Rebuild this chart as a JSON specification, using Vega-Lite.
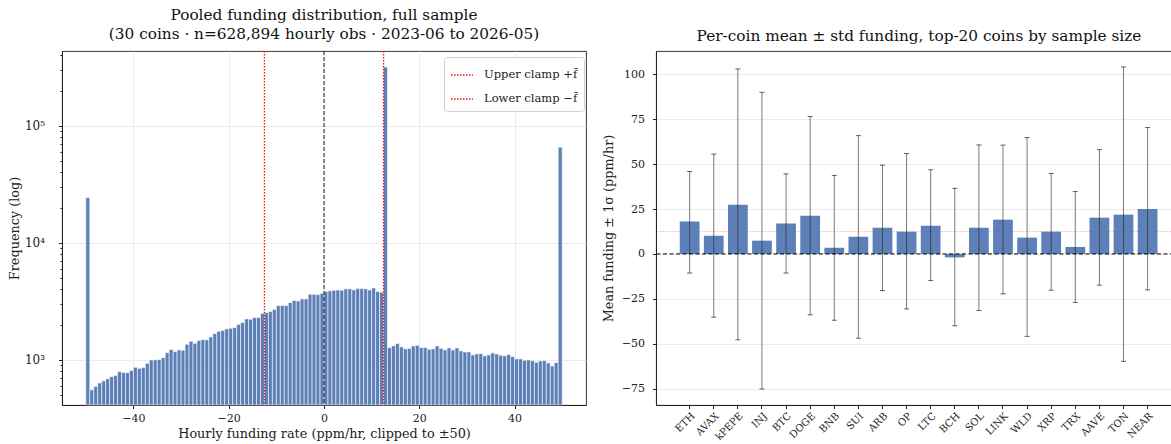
{
  "$schema": "https://vega.github.io/schema/vega-lite/v6.json",
  "padding": {"left": 7, "top": 8, "right": 0, "bottom": 0},
  "background": "white",
  "spacing": 14,
  "config": {
    "font": "DejaVu Serif",
    "view": {"stroke": "#222", "strokeWidth": 0.9},
    "title": {"font": "DejaVu Serif", "fontSize": 15.3, "fontWeight": "normal", "color": "#111", "lineHeight": 18.5, "offset": 7},
    "axis": {"labelFont": "DejaVu Serif", "titleFont": "DejaVu Serif", "labelFontSize": 10, "titleFontSize": 12.8, "titleFontWeight": "normal", "labelColor": "#222", "titleColor": "#222", "domainColor": "#222", "tickColor": "#222", "gridColor": "#e6e6e6", "gridWidth": 0.8, "tickSize": 3.5, "labelPadding": 3}
  },
  "hconcat": [
    {
      "width": 524,
      "height": 354,
      "title": {"text": ["Pooled funding distribution, full sample", "(30 coins · n=628,894 hourly obs · 2023-06 to 2026-05)"]},
      "layer": [
        {
          "data": {"values": [
            {"lo": -50.000, "hi": -49.167, "n": 24400},
            {"lo": -49.167, "hi": -48.333, "n": 555},
            {"lo": -48.333, "hi": -47.500, "n": 594},
            {"lo": -47.500, "hi": -46.667, "n": 636},
            {"lo": -46.667, "hi": -45.833, "n": 662},
            {"lo": -45.833, "hi": -45.000, "n": 689},
            {"lo": -45.000, "hi": -44.167, "n": 720},
            {"lo": -44.167, "hi": -43.333, "n": 735},
            {"lo": -43.333, "hi": -42.500, "n": 794},
            {"lo": -42.500, "hi": -41.667, "n": 778},
            {"lo": -41.667, "hi": -40.833, "n": 778},
            {"lo": -40.833, "hi": -40.000, "n": 811},
            {"lo": -40.000, "hi": -39.167, "n": 865},
            {"lo": -39.167, "hi": -38.333, "n": 847},
            {"lo": -38.333, "hi": -37.500, "n": 859},
            {"lo": -37.500, "hi": -36.667, "n": 935},
            {"lo": -36.667, "hi": -35.833, "n": 1000},
            {"lo": -35.833, "hi": -35.000, "n": 1000},
            {"lo": -35.000, "hi": -34.167, "n": 1006},
            {"lo": -34.167, "hi": -33.333, "n": 1046},
            {"lo": -33.333, "hi": -32.500, "n": 1154},
            {"lo": -32.500, "hi": -31.667, "n": 1225},
            {"lo": -31.667, "hi": -30.833, "n": 1178},
            {"lo": -30.833, "hi": -30.000, "n": 1217},
            {"lo": -30.000, "hi": -29.167, "n": 1210},
            {"lo": -29.167, "hi": -28.333, "n": 1359},
            {"lo": -28.333, "hi": -27.500, "n": 1442},
            {"lo": -27.500, "hi": -26.667, "n": 1387},
            {"lo": -26.667, "hi": -25.833, "n": 1462},
            {"lo": -25.833, "hi": -25.000, "n": 1490},
            {"lo": -25.000, "hi": -24.167, "n": 1482},
            {"lo": -24.167, "hi": -23.333, "n": 1573},
            {"lo": -23.333, "hi": -22.500, "n": 1678},
            {"lo": -22.500, "hi": -21.667, "n": 1756},
            {"lo": -21.667, "hi": -20.833, "n": 1780},
            {"lo": -20.833, "hi": -20.000, "n": 1841},
            {"lo": -20.000, "hi": -19.167, "n": 1862},
            {"lo": -19.167, "hi": -18.333, "n": 1890},
            {"lo": -18.333, "hi": -17.500, "n": 2013},
            {"lo": -17.500, "hi": -16.667, "n": 2084},
            {"lo": -16.667, "hi": -15.833, "n": 2241},
            {"lo": -15.833, "hi": -15.000, "n": 2225},
            {"lo": -15.000, "hi": -14.167, "n": 2301},
            {"lo": -14.167, "hi": -13.333, "n": 2301},
            {"lo": -13.333, "hi": -12.500, "n": 2500},
            {"lo": -12.500, "hi": -11.667, "n": 2530},
            {"lo": -11.667, "hi": -10.833, "n": 2588},
            {"lo": -10.833, "hi": -10.000, "n": 2705},
            {"lo": -10.000, "hi": -9.167, "n": 2909},
            {"lo": -9.167, "hi": -8.333, "n": 2909},
            {"lo": -8.333, "hi": -7.500, "n": 2909},
            {"lo": -7.500, "hi": -6.667, "n": 3090},
            {"lo": -6.667, "hi": -5.833, "n": 3215},
            {"lo": -5.833, "hi": -5.000, "n": 3190},
            {"lo": -5.000, "hi": -4.167, "n": 3320},
            {"lo": -4.167, "hi": -3.333, "n": 3320},
            {"lo": -3.333, "hi": -2.500, "n": 3636},
            {"lo": -2.500, "hi": -1.667, "n": 3636},
            {"lo": -1.667, "hi": -0.833, "n": 3610},
            {"lo": -0.833, "hi": 0.000, "n": 3700},
            {"lo": 0.000, "hi": 0.833, "n": 3837},
            {"lo": 0.833, "hi": 1.667, "n": 3890},
            {"lo": 1.667, "hi": 2.500, "n": 3935},
            {"lo": 2.500, "hi": 3.333, "n": 3960},
            {"lo": 3.333, "hi": 4.167, "n": 3935},
            {"lo": 4.167, "hi": 5.000, "n": 4046},
            {"lo": 5.000, "hi": 5.833, "n": 4046},
            {"lo": 5.833, "hi": 6.667, "n": 3960},
            {"lo": 6.667, "hi": 7.500, "n": 4070},
            {"lo": 7.500, "hi": 8.333, "n": 4070},
            {"lo": 8.333, "hi": 9.167, "n": 4046},
            {"lo": 9.167, "hi": 10.000, "n": 3960},
            {"lo": 10.000, "hi": 10.833, "n": 4120},
            {"lo": 10.833, "hi": 11.667, "n": 3837},
            {"lo": 11.667, "hi": 12.500, "n": 3790},
            {"lo": 12.500, "hi": 13.333, "n": 317000},
            {"lo": 13.333, "hi": 14.167, "n": 1274},
            {"lo": 14.167, "hi": 15.000, "n": 1317},
            {"lo": 15.000, "hi": 15.833, "n": 1379},
            {"lo": 15.833, "hi": 16.667, "n": 1291},
            {"lo": 16.667, "hi": 17.500, "n": 1242},
            {"lo": 17.500, "hi": 18.333, "n": 1256},
            {"lo": 18.333, "hi": 19.167, "n": 1317},
            {"lo": 19.167, "hi": 20.000, "n": 1333},
            {"lo": 20.000, "hi": 20.833, "n": 1274},
            {"lo": 20.833, "hi": 21.667, "n": 1274},
            {"lo": 21.667, "hi": 22.500, "n": 1232},
            {"lo": 22.500, "hi": 23.333, "n": 1242},
            {"lo": 23.333, "hi": 24.167, "n": 1317},
            {"lo": 24.167, "hi": 25.000, "n": 1256},
            {"lo": 25.000, "hi": 25.833, "n": 1217},
            {"lo": 25.833, "hi": 26.667, "n": 1266},
            {"lo": 26.667, "hi": 27.500, "n": 1217},
            {"lo": 27.500, "hi": 28.333, "n": 1266},
            {"lo": 28.333, "hi": 29.167, "n": 1194},
            {"lo": 29.167, "hi": 30.000, "n": 1170},
            {"lo": 30.000, "hi": 30.833, "n": 1170},
            {"lo": 30.833, "hi": 31.667, "n": 1104},
            {"lo": 31.667, "hi": 32.500, "n": 1125},
            {"lo": 32.500, "hi": 33.333, "n": 1130},
            {"lo": 33.333, "hi": 34.167, "n": 1082},
            {"lo": 34.167, "hi": 35.000, "n": 1104},
            {"lo": 35.000, "hi": 35.833, "n": 1148},
            {"lo": 35.833, "hi": 36.667, "n": 1125},
            {"lo": 36.667, "hi": 37.500, "n": 1096},
            {"lo": 37.500, "hi": 38.333, "n": 1082},
            {"lo": 38.333, "hi": 39.167, "n": 1112},
            {"lo": 39.167, "hi": 40.000, "n": 1067},
            {"lo": 40.000, "hi": 40.833, "n": 1020},
            {"lo": 40.833, "hi": 41.667, "n": 1020},
            {"lo": 41.667, "hi": 42.500, "n": 992},
            {"lo": 42.500, "hi": 43.333, "n": 1000},
            {"lo": 43.333, "hi": 44.167, "n": 986},
            {"lo": 44.167, "hi": 45.000, "n": 954},
            {"lo": 45.000, "hi": 45.833, "n": 980},
            {"lo": 45.833, "hi": 46.667, "n": 986},
            {"lo": 46.667, "hi": 47.500, "n": 942},
            {"lo": 47.500, "hi": 48.333, "n": 888},
            {"lo": 48.333, "hi": 49.167, "n": 948},
            {"lo": 49.167, "hi": 50.000, "n": 65600}
          ]},
          "mark": {"type": "bar", "color": "#4C72B0", "opacity": 0.9, "stroke": "white", "strokeWidth": 0.6},
          "encoding": {
            "x": {"field": "lo", "type": "quantitative", "title": "Hourly funding rate (ppm/hr, clipped to ±50)",
                  "scale": {"domain": [-55, 55], "nice": false, "zero": false},
                  "axis": {"values": [-40, -20, 0, 20, 40], "grid": true, "labelFontSize": 11, "labelPadding": 4, "titlePadding": 4}},
            "x2": {"field": "hi"},
            "y": {"field": "n", "type": "quantitative", "title": "Frequency (log)",
                  "scale": {"type": "log", "domain": [412, 435000], "nice": false},
                  "axis": {
                    "values": [500, 600, 700, 800, 900, 1000, 2000, 3000, 4000, 5000, 6000, 7000, 8000, 9000, 10000, 20000, 30000, 40000, 50000, 60000, 70000, 80000, 90000, 100000, 200000, 300000, 400000],
                    "labelExpr": "datum.value == 1000 ? '10³' : datum.value == 10000 ? '10⁴' : datum.value == 100000 ? '10⁵' : ''",
                    "labelOverlap": false,
                    "labelFontSize": 12,
                    "labelPadding": 14,
                    "titlePadding": 3,
                    "tickSize": {"condition": {"test": "datum.value == 1000 || datum.value == 10000 || datum.value == 100000", "value": 3.5}, "value": 2},
                    "gridOpacity": {"condition": {"test": "datum.value == 1000 || datum.value == 10000 || datum.value == 100000", "value": 1}, "value": 0}
                  }},
            "y2": {"datum": 412}
          }
        },
        {
          "data": {"values": [{}]},
          "mark": {"type": "rule", "color": "black", "strokeDash": [4, 2], "strokeWidth": 0.9},
          "encoding": {"x": {"datum": 0}}
        },
        {
          "data": {"values": [{"x": 12.5, "label": "Upper clamp +f̄"}, {"x": -12.5, "label": "Lower clamp −f̄"}]},
          "mark": {"type": "rule", "strokeDash": [1.5, 1.5], "strokeWidth": 1.3},
          "encoding": {
            "x": {"field": "x", "type": "quantitative"},
            "color": {"field": "label", "type": "nominal",
                      "scale": {"domain": ["Upper clamp +f̄", "Lower clamp −f̄"], "range": ["#ee1111", "#ee1111"]},
                      "legend": {"title": null, "orient": "none", "legendX": 382, "legendY": 6, "symbolType": "stroke", "symbolSize": 480, "symbolStrokeWidth": 1.5, "symbolDash": [1.5, 1.5], "labelFont": "DejaVu Serif", "labelFontSize": 11.5, "labelColor": "#222", "fillColor": "rgba(255,255,255,0.85)", "strokeColor": "#d0d0d0", "cornerRadius": 3, "padding": 6, "rowPadding": 6, "labelOffset": 10}}
          }
        }
      ]
    },
    {
      "width": 518,
      "height": 354,
      "title": {"text": "Per-coin mean ± std funding, top-20 coins by sample size", "dx": 4},
      "data": {"values": [
        {"coin": "ETH", "mean": 18.0, "lo": -10.6, "hi": 45.9},
        {"coin": "AVAX", "mean": 10.2, "lo": -35.2, "hi": 55.6},
        {"coin": "kPEPE", "mean": 27.4, "lo": -47.8, "hi": 103.0},
        {"coin": "INJ", "mean": 7.4, "lo": -75.2, "hi": 90.0},
        {"coin": "BTC", "mean": 16.9, "lo": -10.6, "hi": 44.6},
        {"coin": "DOGE", "mean": 21.3, "lo": -33.9, "hi": 76.5},
        {"coin": "BNB", "mean": 3.5, "lo": -36.9, "hi": 43.7},
        {"coin": "SUI", "mean": 9.6, "lo": -46.9, "hi": 65.9},
        {"coin": "ARB", "mean": 14.6, "lo": -20.4, "hi": 49.4},
        {"coin": "OP", "mean": 12.4, "lo": -30.6, "hi": 55.9},
        {"coin": "LTC", "mean": 15.7, "lo": -14.8, "hi": 46.9},
        {"coin": "BCH", "mean": -1.9, "lo": -40.0, "hi": 36.5},
        {"coin": "SOL", "mean": 14.6, "lo": -31.5, "hi": 60.7},
        {"coin": "LINK", "mean": 19.1, "lo": -22.2, "hi": 60.6},
        {"coin": "WLD", "mean": 9.1, "lo": -45.9, "hi": 64.8},
        {"coin": "XRP", "mean": 12.4, "lo": -20.2, "hi": 44.8},
        {"coin": "TRX", "mean": 3.9, "lo": -27.0, "hi": 34.8},
        {"coin": "AAVE", "mean": 20.2, "lo": -17.4, "hi": 58.1},
        {"coin": "TON", "mean": 21.9, "lo": -59.8, "hi": 104.1},
        {"coin": "NEAR", "mean": 25.0, "lo": -20.0, "hi": 70.4}
      ]},
      "layer": [
        {
          "data": {"values": [{}]},
          "mark": {"type": "rule", "color": "#ff0000", "opacity": 0.3, "strokeDash": [1.5, 1.5], "strokeWidth": 1},
          "encoding": {"y": {"datum": 12.5}}
        },
        {
          "mark": {"type": "bar", "color": "#4C72B0", "opacity": 0.9},
          "encoding": {
            "x": {"field": "coin", "type": "nominal", "sort": null, "title": null,
                  "scale": {"paddingInner": 0.18, "paddingOuter": 0.836, "align": 0.59},
                  "axis": {"labelAngle": -45, "labelFontSize": 10, "grid": false, "labelPadding": 2}},
            "y": {"field": "mean", "type": "quantitative", "title": "Mean funding ± 1σ (ppm/hr)",
                  "scale": {"domain": [-84.1, 113.0], "nice": false, "zero": false},
                  "axis": {"values": [-75, -50, -25, 0, 25, 50, 75, 100], "grid": true, "labelFontSize": 11, "labelPadding": 8, "titlePadding": 6}},
            "y2": {"datum": 0}
          }
        },
        {
          "mark": {"type": "rule", "color": "#222", "opacity": 0.6, "strokeWidth": 1},
          "encoding": {
            "x": {"field": "coin", "type": "nominal", "sort": null},
            "y": {"field": "lo", "type": "quantitative"},
            "y2": {"field": "hi"}
          }
        },
        {
          "mark": {"type": "tick", "color": "#222", "opacity": 0.7, "thickness": 1, "size": 5},
          "encoding": {
            "x": {"field": "coin", "type": "nominal", "sort": null},
            "y": {"field": "lo", "type": "quantitative"}
          }
        },
        {
          "mark": {"type": "tick", "color": "#222", "opacity": 0.7, "thickness": 1, "size": 5},
          "encoding": {
            "x": {"field": "coin", "type": "nominal", "sort": null},
            "y": {"field": "hi", "type": "quantitative"}
          }
        },
        {
          "data": {"values": [{}]},
          "mark": {"type": "rule", "color": "black", "strokeDash": [4, 2.5], "strokeWidth": 1},
          "encoding": {"y": {"datum": 0}}
        }
      ]
    }
  ]
}
